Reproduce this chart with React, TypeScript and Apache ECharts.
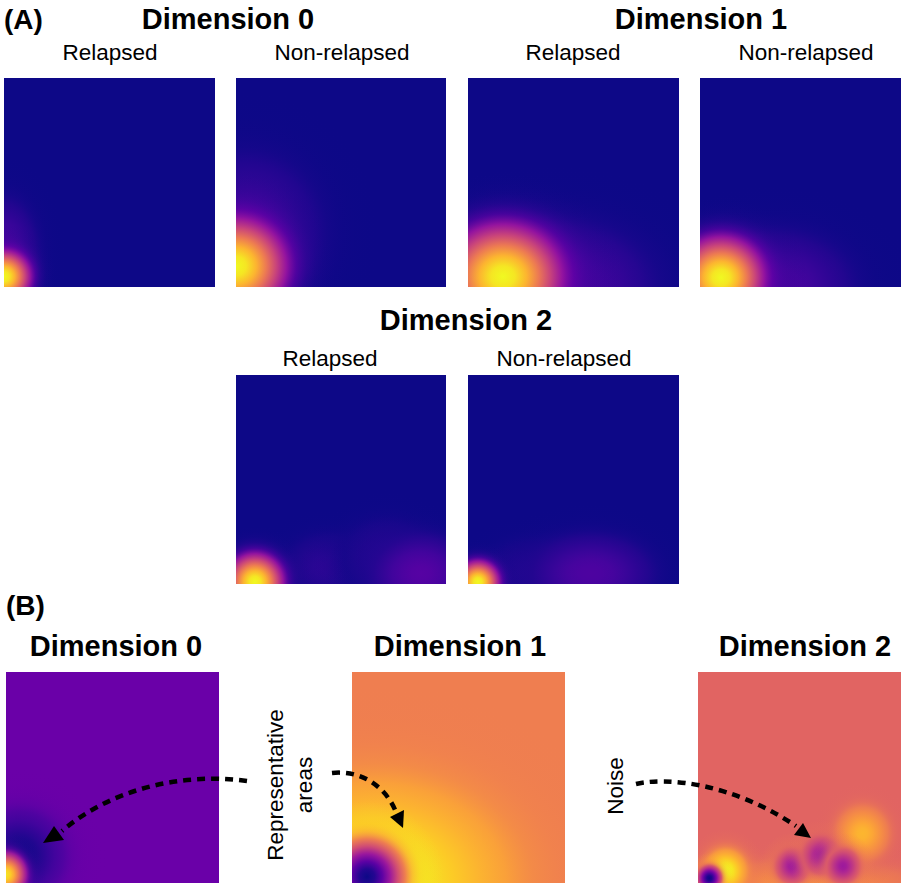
import React, { useEffect, useRef } from 'react';
import * as echarts from 'echarts';

// ---------- texts ----------
const panelLetters = ['(A)', '(B)'];
const dimensions = ['Dimension 0', 'Dimension 1', 'Dimension 2'];
const groups = ['Relapsed', 'Non-relapsed'];
const annotations = ['Representative', 'areas', 'Noise'];

// ---------- data ----------
// Each density component:
// [centerX, centerY, radiusX, radiusY, peakLevel, surroundingLevel]
// centre / radii in panel units (0..1, origin bottom-left), levels on the plasma scale 0..1
const dim0Relapsed = [
  [0.0, 0.15, 0.3, 0.5, 0.13, 0],
  [0.0, 0.05, 0.25, 0.25, 1.0, 0],
];
const dim0NonRelapsed = [
  [0.05, 0.25, 0.65, 0.7, 0.12, 0],
  [0.0, 0.1, 0.48, 0.46, 1.0, 0],
];
const dim1Relapsed = [
  [0.35, 0.0, 0.95, 0.6, 0.15, 0],
  [0.166, 0.05, 0.56, 0.5, 1.0, 0],
];
const dim1NonRelapsed = [
  [0.35, 0.0, 0.75, 0.5, 0.13, 0],
  [0.104, 0.045, 0.43, 0.39, 1.0, 0],
];
const dim2Relapsed = [
  [0.45, 0.08, 0.4, 0.3, 0.07, 0],
  [0.72, 0.12, 0.4, 0.35, 0.07, 0],
  [0.88, 0.05, 0.45, 0.35, 0.15, 0],
  [0.09, 0.01, 0.27, 0.27, 1.0, 0],
];
const dim2NonRelapsed = [
  [0.3, 0.05, 0.4, 0.3, 0.06, 0],
  [0.58, 0.05, 0.55, 0.35, 0.13, 0],
  [0.047, 0.01, 0.2, 0.2, 1.0, 0],
];
const diffDim0 = [
  [0.06, 0.13, 0.42, 0.42, 0.0, 0.2],
  [0.0, 0.04, 0.19, 0.21, 0.95, 0.05],
];
const diffDim1 = [
  [0.1, 0.0, 1.25, 0.95, 1.0, 0.68],
  [0.07, 0.03, 0.36, 0.36, 0.0, 1.0],
];
const diffDim2 = [
  [0.55, -0.02, 1.0, 0.25, 0.75, 0.6],
  [0.81, 0.235, 0.25, 0.25, 0.84, 0.6],
  [0.465, 0.08, 0.16, 0.16, 0.34, 0.68],
  [0.606, 0.13, 0.17, 0.17, 0.34, 0.65],
  [0.714, 0.08, 0.16, 0.16, 0.34, 0.68],
  [0.136, 0.056, 0.2, 0.2, 1.0, 0.65],
  [0.056, 0.023, 0.12, 0.12, 0.0, 0.8],
];
// background level of each panel (plasma scale)
const backgroundLevels = [0, 0, 0, 0, 0, 0, 0.2, 0.68, 0.6];

// ---------- colour map ----------
const PLASMA = ['#0d0887', '#41049d', '#6a00a8', '#8f0da4', '#b12a90', '#cc4778', '#e16462', '#f2844b', '#fca636', '#fcce25', '#f0f921'];
function hexRgb(h: string) {
  return [parseInt(h.slice(1, 3), 16), parseInt(h.slice(3, 5), 16), parseInt(h.slice(5, 7), 16)];
}
function plasma(v: number, a = 1) {
  const x = Math.max(0, Math.min(1, v)) * 10;
  const i = Math.min(9, Math.floor(x));
  const t = x - i;
  const c0 = hexRgb(PLASMA[i]);
  const c1 = hexRgb(PLASMA[i + 1]);
  const c = c0.map((c, k) => Math.round(c + (c1[k] - c) * t));
  return `rgba(${c[0]},${c[1]},${c[2]},${a})`;
}
const STOPS = [0, 0.1, 0.2, 0.3, 0.4, 0.5, 0.6, 0.7, 0.8, 0.9, 1];

const FONT = '"Liberation Sans", Arial, Helvetica, sans-serif';

const panels = [
  { left: 4, top: 78, width: 211, height: 209, blobs: dim0Relapsed },
  { left: 236, top: 78, width: 210, height: 209, blobs: dim0NonRelapsed },
  { left: 468, top: 78, width: 211, height: 209, blobs: dim1Relapsed },
  { left: 700, top: 78, width: 211, height: 209, blobs: dim1NonRelapsed },
  { left: 236, top: 375, width: 210, height: 209, blobs: dim2Relapsed },
  { left: 468, top: 375, width: 211, height: 209, blobs: dim2NonRelapsed },
  { left: 6, top: 672, width: 213, height: 213, blobs: diffDim0 },
  { left: 352, top: 672, width: 213, height: 213, blobs: diffDim1 },
  { left: 698, top: 672, width: 213, height: 213, blobs: diffDim2 },
];

function renderBlob(params: any, api: any) {
  const cx = api.value(0);
  const cy = api.value(1);
  const rx = api.value(2);
  const ry = api.value(3);
  const peak = api.value(4);
  const base = api.value(5);
  const c = api.coord([cx, cy]);
  const s = api.size([rx, ry], [cx, cy]);
  const stops = STOPS.map((t) => {
    const f = Math.exp(-4.5 * t * t);
    const a = t >= 1 ? 0 : Math.min(1, 3 * f);
    return { offset: t, color: plasma(base + (peak - base) * f, a) };
  });
  return {
    type: 'circle',
    x: c[0],
    y: c[1],
    scaleX: s[0] / s[1],
    shape: { cx: 0, cy: 0, r: s[1] },
    style: { fill: new echarts.graphic.RadialGradient(0.5, 0.5, 0.5, stops) },
  };
}

function txt(text: string, x: number, y: number, size: number, bold: boolean, rotation = 0, align = 'center') {
  return {
    type: 'text',
    x,
    y,
    rotation,
    z: 100,
    style: {
      text,
      x: 0,
      y: 0,
      fontSize: size,
      fontWeight: bold ? 'bold' : 'normal',
      fontFamily: FONT,
      fill: '#000',
      align,
      verticalAlign: 'middle',
      textAlign: align,
      textVerticalAlign: 'middle',
    },
  };
}

function arrow(p: number[], head: number[][]) {
  return [
    {
      type: 'bezierCurve',
      z: 100,
      shape: { x1: p[0], y1: p[1], cpx1: p[2], cpy1: p[3], cpx2: p[4], cpy2: p[5], x2: p[6], y2: p[7] },
      style: { stroke: '#000', lineWidth: 4.5, lineDash: [8, 6], fill: null },
    },
    { type: 'polygon', z: 100, shape: { points: head }, style: { fill: '#000' } },
  ];
}

export default function App() {
  const ref = useRef<HTMLDivElement>(null);
  useEffect(() => {
    if (!ref.current) return;
    const chart = echarts.init(ref.current, undefined, { renderer: 'svg' });
    const option: any = {
      animation: false,
      backgroundColor: '#ffffff',
      grid: panels.map((p, i) => ({
        left: p.left,
        top: p.top,
        width: p.width,
        height: p.height,
        show: true,
        borderWidth: 0,
        backgroundColor: plasma(backgroundLevels[i]),
      })),
      xAxis: panels.map((_, i) => ({ type: 'value', min: 0, max: 1, show: false, gridIndex: i })),
      yAxis: panels.map((_, i) => ({ type: 'value', min: 0, max: 1, show: false, gridIndex: i })),
      series: panels.map((p, i) => ({
        type: 'custom',
        xAxisIndex: i,
        yAxisIndex: i,
        clip: true,
        silent: true,
        renderItem: renderBlob,
        data: p.blobs,
      })),
      graphic: [
        txt(panelLetters[0], 4, 19, 28, true, 0, 'left'),
        txt(dimensions[0], 228, 19, 29, true),
        txt(dimensions[1], 701, 19, 29, true),
        txt(groups[0], 110, 52, 22.5, false),
        txt(groups[1], 342, 52, 22.5, false),
        txt(groups[0], 573, 52, 22.5, false),
        txt(groups[1], 806, 52, 22.5, false),
        txt(dimensions[2], 466, 320, 29, true),
        txt(groups[0], 330, 358, 22.5, false),
        txt(groups[1], 564, 358, 22.5, false),
        txt(panelLetters[1], 6, 605, 28, true, 0, 'left'),
        txt(dimensions[0], 116, 646, 29, true),
        txt(dimensions[1], 460, 646, 29, true),
        txt(dimensions[2], 805, 646, 29, true),
        txt(annotations[0], 275, 785, 22.5, false, Math.PI / 2),
        txt(annotations[1], 304, 785, 22.5, false, Math.PI / 2),
        txt(annotations[2], 615, 786, 22.5, false, Math.PI / 2),
        ...arrow([247, 781, 180, 772, 110, 790, 62, 831], [[43, 843], [54, 826], [64, 840]]),
        ...arrow([332, 773, 360, 770, 385, 785, 396, 812], [[390, 817], [404, 810], [403, 828]]),
        ...arrow([636, 784, 665, 777, 730, 782, 796, 826], [[794, 835], [803, 823], [811, 838]]),
      ],
    };
    chart.setOption(option);
    return () => chart.dispose();
  }, []);
  return <div ref={ref} style={{ position: 'fixed', left: 0, top: 0, width: 901, height: 883 }} />;
}
